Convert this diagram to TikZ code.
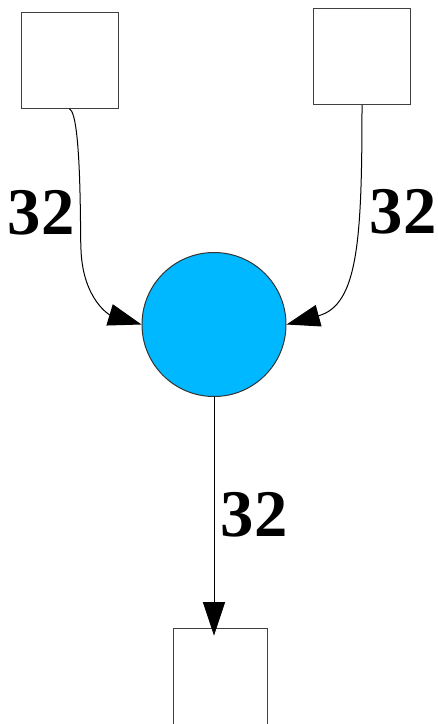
\documentclass[tikz,border=0pt]{standalone}
\usepackage{fontspec}
\setmainfont{Liberation Serif}
\newfontfamily\widthfont{Liberation Serif Bold}
\usetikzlibrary{arrows.meta}
\definecolor{opblue}{HTML}{00B8FF}

\tikzset{
  portbox/.style={draw=black!75, line width=0.75pt, fill=white, minimum width=72.75pt, minimum height=72pt, inner sep=0},
  opnode/.style={circle, draw=black!80, line width=0.75pt, fill=opblue, minimum size=108pt, inner sep=0},
  wlabel/.style={font=\fontsize{50}{50}\widthfont, inner sep=0}
}

\begin{document}
\begin{tikzpicture}[x=0.75pt, y=-0.75pt, line width=0.75pt, >={Triangle[length=25pt,width=16.5pt]}]
    \useasboundingbox (0,0) rectangle (437,724);
    % nodes
    \node[portbox] (inA) at (69.5,60.3) {};
    \node[portbox] (inB) at (362,56.7) {};
    \node[opnode] (op) at (214,324.5) {};
    \node[portbox, minimum width=70.5pt] (out) at (220.2,676.7) {};
    % connectors
    \draw[->] (inA.south) .. controls (82,115) and (80,240) .. (81,250) .. controls (83,300) and (110,315) .. (op.west);
    \draw[->] (inB.south) .. controls (362,240) and (358,305) .. (op.east);
    \draw[->, shorten >=-5.5pt] (op.south) -- (op.south |- out.north);
    % widths
    \node[wlabel] (wA) at (41,213) {32};
    \node[wlabel] (wB) at (403,212) {32};
    \node[wlabel] (wO) at (254,515) {32};
\end{tikzpicture}
\end{document}
